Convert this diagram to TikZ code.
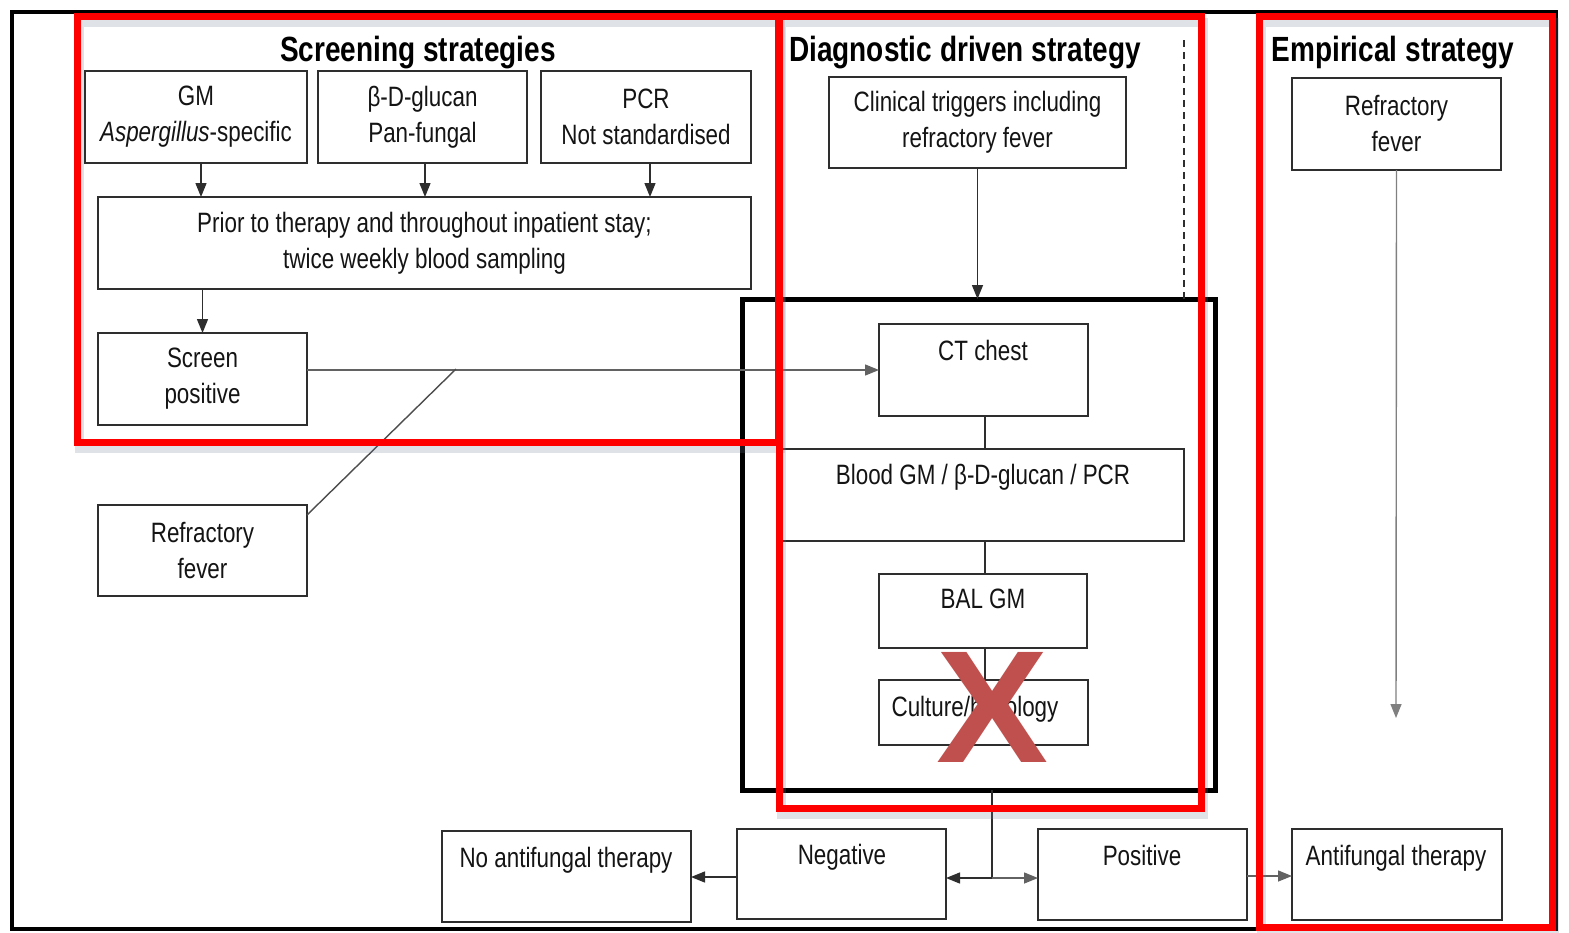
\documentclass[tikz,border=0pt]{standalone}
\usepackage{fontspec}
\newfontfamily\nf[FakeStretch=0.8]{Liberation Sans}
\newfontfamily\xf{Liberation Sans}
\usetikzlibrary{arrows.meta,calc}
\definecolor{boxline}{HTML}{2E2E2E}
\definecolor{txtc}{HTML}{141414}
\definecolor{redb}{HTML}{FF0000}
\definecolor{xred}{HTML}{C0504D}
\definecolor{shadowc}{HTML}{6F7C96}
\begin{document}
\begin{tikzpicture}[x=1pt,y=-1pt,
  box/.style={draw=boxline, line width=1.6pt, fill=white, inner sep=0pt, outer sep=0pt,
    font=\nf\fontsize{28}{36}\selectfont, text=txtc, align=center},
  lbl/.style={font=\nf\fontsize{28}{36}\selectfont, text=txtc, inner sep=0pt, anchor=base},
  ttl/.style={font=\nf\bfseries\fontsize{35}{40}\selectfont, text=black, inner sep=0pt, anchor=base},
  conn/.style={draw=boxline, line width=1.4pt},
  arr/.style={conn, -{Triangle[length=14pt,width=11pt]}},
  redframe/.style={draw=redb, line width=7pt},
  shadowline/.style={draw=shadowc, line width=9pt, opacity=0.22},
]
\useasboundingbox (0,0) rectangle (1569,932);
\fill[white] (0,0) rectangle (1569,932);

% outer frame
\draw[line width=4.5pt] (12,12) rectangle (1556,929);

% titles
\node[ttl] (t1) at (418,61) {Screening strategies};
\node[ttl] (t2) at (965,61) {Diagnostic driven strategy};
\node[ttl] (t3) at (1393,61) {Empirical strategy};

% screening boxes
\node[box, minimum width=222pt, minimum height=92pt] (gm) at (196,117) {GM\\\textit{Aspergillus}-specific};
\node[box, minimum width=209pt, minimum height=92pt] (bdg) at (422.5,117) {β-D-glucan\\Pan-fungal};
\node[box, minimum width=210pt, minimum height=92pt] (pcr) at (646,117) {PCR\\Not standardised};
\node[box, minimum width=653pt, minimum height=92pt] (prior) at (424.5,243) {Prior to therapy and throughout inpatient stay;\\twice weekly blood sampling};
\node[box, minimum width=209pt, minimum height=92pt] (screen) at (202.5,379) {Screen\\positive};
\node[box, minimum width=209pt, minimum height=91pt] (refL) at (202.5,550.5) {Refractory\\fever};

% diagnostic
\node[box, minimum width=297pt, minimum height=91pt] (clin) at (977.5,122.5) {Clinical triggers including\\refractory fever};
\node[draw=black, line width=5pt, inner sep=0pt, outer sep=0pt, minimum width=473pt, minimum height=491pt] (proc) at (978.5,544.5) {};
\node[box, minimum width=209pt, minimum height=92pt] (ct) at (983.5,370) {};
\node[box, minimum width=402pt, minimum height=92pt] (blood) at (983,495) {};
\node[box, minimum width=208pt, minimum height=74pt] (bal) at (983,611) {};
\node[box, minimum width=209pt, minimum height=65pt] (cult) at (983.5,712.5) {};
\node[lbl] (ctt) at (983,360) {CT chest};
\node[lbl] (bldt) at (983,484) {Blood GM / β-D-glucan / PCR};
\node[lbl] (balt) at (983,608) {BAL GM};
\node[lbl] (cultt) at (975,716) {Culture/histology};

% empirical
\node[box, minimum width=209pt, minimum height=92pt] (refR) at (1396.5,124) {Refractory\\fever};

% outcome boxes
\node[box, minimum width=249pt, minimum height=91pt] (noaf) at (566.5,876.5) {};
\node[box, minimum width=209pt, minimum height=90pt] (neg) at (841.5,874) {};
\node[box, minimum width=209pt, minimum height=91pt] (pos) at (1142.5,874.5) {};
\node[box, minimum width=210pt, minimum height=91pt] (af) at (1397,874.5) {};
\node[lbl] (noaft) at (566,867) {No antifungal therapy};
\node[lbl] (negt) at (842,864) {Negative};
\node[lbl] (post) at (1142,865) {Positive};
\node[lbl] (aft) at (1396,865) {Antifungal therapy};

% connectors
\draw[arr] ([xshift=5pt]gm.south) -- ([xshift=5pt]gm.south |- prior.north);
\draw[arr] ([xshift=2.5pt]bdg.south) -- ([xshift=2.5pt]bdg.south |- prior.north);
\draw[arr] ([xshift=4pt]pcr.south) -- ([xshift=4pt]pcr.south |- prior.north);
\draw[arr] (screen.north |- prior.south) -- (screen.north);

\coordinate (j1) at (456,369);
\draw[arr, draw=boxline!75] (screen.east |- ct.west) -- (ct.west);
\draw[conn, draw=boxline!85] ([yshift=-10pt]refL.north east) -- (j1);

\draw[arr] (clin.south) -- (clin.south |- proc.north);
\coordinate (d1) at (1184,40);
\draw[conn, dash pattern=on 7pt off 5pt] (d1) -- (d1 |- proc.north);

\draw[conn] ([xshift=1.5pt]ct.south) -- ([xshift=1.5pt]ct.south |- blood.north);
\draw[conn] ([xshift=2pt]blood.south) -- ([xshift=2pt]blood.south |- bal.north);
\draw[conn] ([xshift=2pt]bal.south) -- ([xshift=2pt]bal.south |- cult.north);

\coordinate (sp) at (992,878);
\draw[conn] (sp |- proc.south) -- (sp);
\draw[arr] (sp) -- (neg.east |- sp);
\draw[arr, draw=boxline!75] (sp) -- (pos.west |- sp);
\draw[arr] ([yshift=-3pt]neg.west) -- ([yshift=-3pt]neg.west -| noaf.east);
\draw[arr, draw=boxline!75] ([yshift=-1.5pt]pos.east) -- ([yshift=-1.5pt]pos.east -| af.west);

\coordinate (e1) at (1396,718);
\draw[arr, draw=gray] (refR.south) -- (e1);

% red X
\node[font=\xf\bfseries\fontsize{160}{160}\selectfont, text=xred, inner sep=0pt, xscale=1.05] (xmark) at (993,707) {X};

% shadows of red frames
\draw[shadowline] (79,22) rectangle (780,448);
\draw[shadowline] (781,22) rectangle (1203,814);
\draw[shadowline] (1261,22) rectangle (1554,933);

% red frames
\draw[redframe] (77,16) rectangle (778,442);
\draw[redframe] (779,16) rectangle (1201,808);
\draw[redframe] (1259,16) rectangle (1552,927);
\end{tikzpicture}
\end{document}
